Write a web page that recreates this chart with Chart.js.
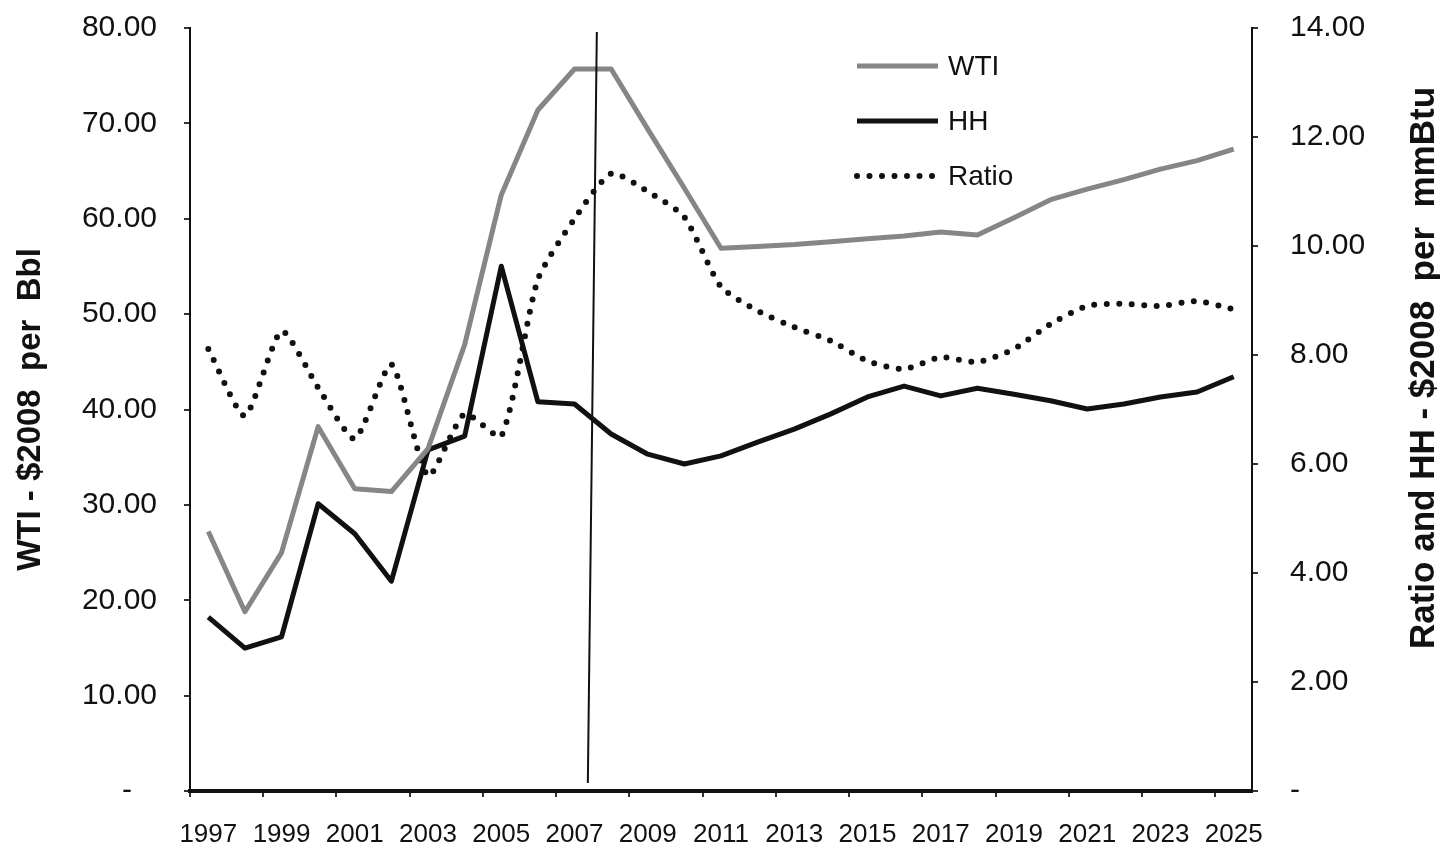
<!DOCTYPE html>
<html><head><meta charset="utf-8">
<script src="https://cdn.jsdelivr.net/npm/chart.js@4.4.1/dist/chart.umd.min.js"></script>
<style>html,body{margin:0;padding:0;background:#fff;} #wrap{width:1440px;height:846px;position:relative;}</style>
</head><body><div id="wrap"><canvas id="c"></canvas></div>
<script>
const years = ['1997','1998','1999','2000','2001','2002','2003','2004','2005','2006','2007','2008','2009','2010','2011','2012','2013','2014','2015','2016','2017','2018','2019','2020','2021','2022','2023','2024','2025'];
const wti   = [27.2,18.8,25.0,38.2,31.7,31.4,35.9,46.8,62.5,71.4,75.7,75.7,69.4,63.2,56.9,57.1,57.3,57.6,57.9,58.2,58.6,58.3,60.1,62.0,63.1,64.1,65.2,66.1,67.3];
const hh    = [3.19,2.62,2.83,5.27,4.72,3.85,6.26,6.51,9.63,7.14,7.10,6.55,6.18,6.00,6.15,6.40,6.64,6.92,7.23,7.43,7.25,7.39,7.28,7.16,7.01,7.10,7.23,7.32,7.60];
const ratio = [8.11,6.88,8.44,7.40,6.46,7.83,5.78,6.92,6.51,9.39,10.50,11.33,11.00,10.53,9.25,8.81,8.51,8.26,7.89,7.74,7.96,7.87,8.11,8.57,8.90,8.94,8.90,8.99,8.84];
const seriesNames = ['WTI','HH','Ratio'];
const leftAxisTitle = 'WTI - $2008  per  Bbl';
const rightAxisTitle = 'Ratio and HH - $2008  per  mmBtu';
const leftMax = 80, leftStep = 10;
const rightMax = 14, rightStep = 2;
const markerBetween = ['2007','2008'];

const fmt = (v, zero) => v === 0 ? zero : Number(v).toFixed(2);
const tickFont = {family: '"Liberation Sans", Arial, sans-serif', size: 30};
const xFont = {family: '"Liberation Sans", Arial, sans-serif', size: 26};

const markerPlugin = {
  id: 'marker',
  afterDatasetsDraw(chart) {
    const x = chart.scales.x, a = chart.chartArea, ctx = chart.ctx;
    const i0 = years.indexOf(markerBetween[0]), i1 = years.indexOf(markerBetween[1]);
    const px = (x.getPixelForValue(i0) + x.getPixelForValue(i1)) / 2;
    ctx.save(); ctx.strokeStyle = '#111'; ctx.lineWidth = 2;
    ctx.beginPath(); ctx.moveTo(px + 4, a.top + 4); ctx.lineTo(px - 5, a.bottom - 8); ctx.stroke();
    ctx.restore();
  }
};

const legendPlugin = {
  id: 'customLegend',
  afterDraw(chart) {
    const ctx = chart.ctx;
    const x0 = 857, x1 = 938, tx = 948, rows = [66, 121, 176];
    ctx.save();
    chart.data.datasets.forEach((ds, i) => {
      const y = rows[i];
      ctx.strokeStyle = ds.borderColor; ctx.lineWidth = ds.borderWidth;
      ctx.lineCap = ds.borderCapStyle || 'butt';
      ctx.setLineDash(ds.borderDash || []);
      ctx.beginPath(); ctx.moveTo(x0, y); ctx.lineTo(x1, y); ctx.stroke();
      ctx.setLineDash([]);
      ctx.fillStyle = '#111'; ctx.font = '28px "Liberation Sans", Arial, sans-serif';
      ctx.textAlign = 'left'; ctx.textBaseline = 'middle';
      ctx.fillText(ds.label, tx, y + 1);
    });
    ctx.restore();
  }
};

const rightTitlePlugin = {
  id: 'rightTitle',
  afterDraw(chart) {
    const ctx = chart.ctx;
    ctx.save();
    ctx.translate(1424, 368); ctx.rotate(-Math.PI / 2);
    ctx.font = 'bold 35px "Liberation Sans", Arial, sans-serif';
    ctx.fillStyle = '#111'; ctx.textAlign = 'center'; ctx.textBaseline = 'middle';
    ctx.fillText(rightAxisTitle, 0, 0);
    ctx.restore();
  }
};

const fitV = w => s => { s.width = w; s.paddingTop = 0; s.paddingBottom = 0; };

new Chart(document.getElementById('c'), {
  type: 'line',
  data: {
    labels: years,
    datasets: [
      {label: seriesNames[0], data: wti, yAxisID: 'y', borderColor: '#868686', borderWidth: 5, pointRadius: 0, tension: 0, borderJoinStyle: 'round'},
      {label: seriesNames[1], data: hh, yAxisID: 'y1', borderColor: '#111111', borderWidth: 5, pointRadius: 0, tension: 0, borderJoinStyle: 'round'},
      {label: seriesNames[2], data: ratio, yAxisID: 'y1', borderColor: '#111111', borderWidth: 6, borderDash: [0, 12.5], borderCapStyle: 'round', pointRadius: 0, tension: 0.2}
    ]
  },
  options: {
    responsive: true, maintainAspectRatio: false, animation: false,
    layout: {padding: {top: 28, left: 0, right: 0, bottom: 0}},
    plugins: {legend: {display: false}, tooltip: {enabled: false}},
    scales: {
      x: {
        type: 'category', offset: true,
        grid: {offset: true, drawOnChartArea: false, drawTicks: true, tickLength: 6, lineWidth: 2,
          color: c => (c.index % 2 === 0 ? '#333' : 'rgba(0,0,0,0)')},
        border: {display: true, color: '#111', width: 4},
        ticks: {autoSkip: false, maxRotation: 0, minRotation: 0, padding: 22, color: '#111', font: xFont,
          callback: (v, i) => (i % 2 === 0 ? years[i] : '')},
        afterFit: s => { s.height = 55; s.paddingLeft = 0; s.paddingRight = 0; }
      },
      y: {
        position: 'left', min: 0, max: leftMax,
        grid: {drawOnChartArea: false, drawTicks: true, tickLength: 6, color: '#333', lineWidth: 2},
        border: {display: true, color: '#111', width: 2},
        ticks: {stepSize: leftStep, padding: 27, color: '#111', font: tickFont, callback: v => fmt(v, '-   ')},
        title: {display: true, text: leftAxisTitle, color: '#111', padding: {top: 14, bottom: 0},
          font: {family: '"Liberation Sans", Arial, sans-serif', size: 33, weight: 'bold', lineHeight: 1}},
        afterFit: fitV(190)
      },
      y1: {
        position: 'right', min: 0, max: rightMax,
        grid: {drawOnChartArea: false, drawTicks: true, tickLength: 6, color: '#333', lineWidth: 2},
        border: {display: true, color: '#111', width: 2},
        ticks: {stepSize: rightStep, padding: 32, color: '#111', font: tickFont, callback: v => fmt(v, '-')},
        title: {display: false, text: rightAxisTitle},
        afterFit: fitV(188)
      }
    }
  },
  plugins: [markerPlugin, legendPlugin, rightTitlePlugin]
});
</script></body></html>
